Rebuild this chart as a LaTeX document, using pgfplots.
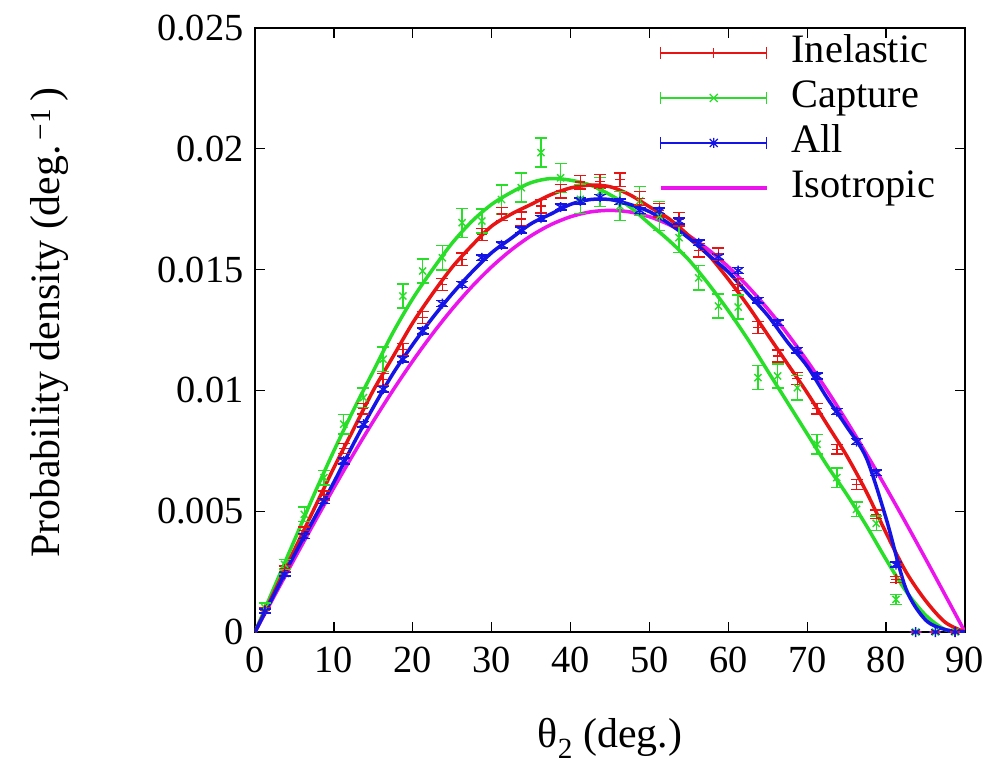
\documentclass[border=0pt]{standalone}
\usepackage{fontspec}
\setmainfont{Liberation Serif}
\usepackage{pgfplots}
\pgfplotsset{compat=1.18}
\usepackage{pgfplotstable}

\definecolor{cred}{RGB}{232,20,20}
\definecolor{cgreen}{RGB}{40,222,40}
\definecolor{cblue}{RGB}{20,20,230}
\definecolor{cmag}{RGB}{236,20,236}

\pgfplotstableread{
x y ey
1.25 0.00090 0.00010
3.75 0.00262 0.00012
6.25 0.00420 0.00015
8.75 0.00565 0.00018
11.25 0.00760 0.00020
13.75 0.00925 0.00022
16.25 0.01046 0.00025
18.75 0.01170 0.00025
21.25 0.01301 0.00025
23.75 0.01439 0.00025
26.25 0.01543 0.00025
28.75 0.01646 0.00025
31.25 0.01730 0.00028
33.75 0.01710 0.00028
36.25 0.01763 0.00028
38.75 0.01825 0.00028
41.25 0.01862 0.00028
43.75 0.01865 0.00028
46.25 0.01872 0.00028
48.75 0.01795 0.00028
51.25 0.01745 0.00028
53.75 0.01708 0.00028
56.25 0.01580 0.00028
58.75 0.01565 0.00025
61.25 0.01439 0.00025
63.75 0.01260 0.00025
66.25 0.01142 0.00025
68.75 0.01050 0.00025
71.25 0.00925 0.00022
73.75 0.00756 0.00020
76.25 0.00611 0.00020
78.75 0.00487 0.00018
81.25 0.00218 0.00012
83.75 0.0 0.0
86.25 0.0 0.0
88.75 0.0 0.0
}\inel

\pgfplotstableread{
x y ey
1.25 0.00100 0.00020
3.75 0.00280 0.00020
6.25 0.00487 0.00030
8.75 0.00639 0.00030
11.25 0.00860 0.00040
13.75 0.00970 0.00040
16.25 0.01129 0.00050
18.75 0.01391 0.00050
21.25 0.01494 0.00050
23.75 0.01549 0.00050
26.25 0.01694 0.00060
28.75 0.01701 0.00050
31.25 0.01790 0.00060
33.75 0.01839 0.00060
36.25 0.01984 0.00060
38.75 0.01880 0.00060
41.25 0.01791 0.00060
43.75 0.01822 0.00060
46.25 0.01763 0.00060
48.75 0.01784 0.00060
51.25 0.01722 0.00060
53.75 0.01632 0.00060
56.25 0.01466 0.00050
58.75 0.01349 0.00050
61.25 0.01345 0.00050
63.75 0.01053 0.00050
66.25 0.01060 0.00050
68.75 0.01011 0.00050
71.25 0.00777 0.00040
73.75 0.00639 0.00040
76.25 0.00508 0.00030
78.75 0.00450 0.00030
81.25 0.00135 0.00020
83.75 0.0 0.0
86.25 0.0 0.0
88.75 0.0 0.0
}\capt

\pgfplotstableread{
x y ey
1.25 0.00087 0.00008
3.75 0.00239 0.00008
6.25 0.00397 0.00010
8.75 0.00542 0.00010
11.25 0.00708 0.00012
13.75 0.00860 0.00012
16.25 0.01005 0.00012
18.75 0.01129 0.00012
21.25 0.01246 0.00012
23.75 0.01359 0.00012
26.25 0.01439 0.00012
28.75 0.01549 0.00012
31.25 0.01602 0.00012
33.75 0.01664 0.00012
36.25 0.01713 0.00012
38.75 0.01759 0.00012
41.25 0.01784 0.00012
43.75 0.01800 0.00012
46.25 0.01781 0.00012
48.75 0.01745 0.00012
51.25 0.01743 0.00012
53.75 0.01701 0.00012
56.25 0.01611 0.00012
58.75 0.01553 0.00012
61.25 0.01496 0.00012
63.75 0.01373 0.00012
66.25 0.01280 0.00012
68.75 0.01166 0.00012
71.25 0.01060 0.00012
73.75 0.00912 0.00012
76.25 0.00788 0.00012
78.75 0.00659 0.00012
81.25 0.00279 0.00010
83.75 0.0 0.0
86.25 0.0 0.0
88.75 0.0 0.0
}\allp

\pgfplotstableread{
x y
0 0
2.5 0.001521
5 0.003031
7.5 0.004517
10 0.005969
12.5 0.007376
15 0.008727
17.5 0.010011
20 0.011219
22.5 0.012341
25 0.013370
27.5 0.014297
30 0.015115
32.5 0.015818
35 0.016401
37.5 0.016859
40 0.017188
42.5 0.017387
45 0.017453
47.5 0.017387
50 0.017188
52.5 0.016859
55 0.016401
57.5 0.015818
60 0.015115
62.5 0.014297
65 0.013370
67.5 0.012341
70 0.011219
72.5 0.010011
75 0.008727
77.5 0.007376
80 0.005969
82.5 0.004517
85 0.003031
87.5 0.001521
90 0
}\iso

\pgfplotstableread{
x y
0 0
2.5 0.0017
5 0.0034
7.5 0.0051
10 0.0068
12.5 0.0084
15 0.0100
17.5 0.0114
20 0.0128
22.5 0.0140
25 0.0151
27.5 0.0160
30 0.0168
32.5 0.0173
35 0.0177
37.5 0.0181
40 0.01838
42.5 0.0185
45 0.01843
47.5 0.0181
50 0.0176
52.5 0.0171
55 0.0164
57.5 0.0156
60 0.0146
62.5 0.0135
65 0.0123
67.5 0.0111
70 0.0099
72.5 0.0086
75 0.0073
77.5 0.0058
80 0.0041
82.5 0.0025
85 0.0013
87.5 0.0004
90 0
}\inelfit

\pgfplotstableread{
x y
0 0
2.5 0.0019
5 0.0038
7.5 0.0057
10 0.0075
12.5 0.0092
15 0.0108
17.5 0.0124
20 0.0138
22.5 0.0150
25 0.0161
27.5 0.0170
30 0.0177
32.5 0.0182
35 0.0186
37.5 0.01877
40 0.0187
42.5 0.0185
45 0.0181
47.5 0.0176
50 0.0169
52.5 0.0162
55 0.0154
57.5 0.0144
60 0.0133
62.5 0.0121
65 0.0108
67.5 0.0095
70 0.0082
72.5 0.0069
75 0.0057
77.5 0.0044
80 0.0030
82.5 0.0017
85 0.0007
87.5 0.0001
90 0
}\captfit

\pgfplotstableread{
x y
0 0
2.5 0.0016
5 0.0032
7.5 0.0047
10 0.0062
12.5 0.0078
15 0.0093
17.5 0.0107
20 0.0119
22.5 0.0130
25 0.0140
27.5 0.0149
30 0.0157
32.5 0.0163
35 0.0169
37.5 0.0173
40 0.0177
42.5 0.0179
45 0.0179
47.5 0.0177
50 0.0174
52.5 0.0169
55 0.0163
57.5 0.0156
60 0.0149
62.5 0.0140
65 0.0131
67.5 0.0120
70 0.0110
72.5 0.0097
75 0.0085
77.5 0.0072
80 0.0047
82.5 0.0018
85 0.0005
87.5 0.0001
90 0
}\allfit

\newcommand{\bigf}{\fontsize{38.5}{44}\selectfont}
\newcommand{\labf}{\fontsize{42}{48}\selectfont}
\newcommand{\legf}{\fontsize{40.5}{46}\selectfont}

\begin{document}
\begin{tikzpicture}
\useasboundingbox (-255bp,-133bp) rectangle (738bp,632bp);
\begin{axis}[
  at={(0,0)}, anchor=south west,
  scale only axis, width=710bp, height=604bp,
  xmin=0, xmax=90, ymin=0, ymax=0.025,
  scaled y ticks=false, scaled x ticks=false,
  xtick={0,10,...,90},
  xticklabels={0,10,20,30,40,50,60,70,80,90},
  ytick={0,0.005,0.01,0.015,0.02,0.025},
  yticklabels={0,0.005,0.01,0.015,0.02,0.025},
  tick label style={font=\bigf},
  xticklabel style={yshift=-11bp},
  yticklabel style={xshift=-8bp},
  label style={font=\labf},
  xlabel={θ\textsubscript{2} (deg.)},
  ylabel={Probability density (deg.\textsuperscript{\,−1}\,)},
  xlabel style={at={(axis description cs:0.5,-0.191)}, anchor=base},
  ylabel style={at={(axis description cs:-0.289,0.512)}, anchor=center},
  major tick length=10bp,
  axis line style={line width=1.6bp},
  every tick/.style={black, line width=1.4bp},
  legend style={draw=none, fill=none, font=\legf,
    at={(axis description cs:0.5645,0.993)}, anchor=north west,
    nodes={inner sep=1bp, text height=27bp, text depth=8bp},
    row sep=8bp,
    /tikz/every odd column/.append style={column sep=22bp}},
  legend cell align=left,
  error bars/error bar style={line width=1.4bp},
  error bars/error mark options={rotate=90, mark size=6bp, line width=1.4bp},
]
% fits
\addplot[forget plot, cmag, line width=3.5bp, smooth] table {\iso};
\addplot[forget plot, cgreen, line width=3.5bp, smooth] table {\captfit};
\addplot[forget plot, cred, line width=3.5bp, smooth] table {\inelfit};
\addplot[forget plot, cblue, line width=3.5bp, smooth] table {\allfit};
% data
\addplot[forget plot, cgreen, only marks, mark=x, mark size=5bp, line width=1.4bp,
  error bars/.cd, y dir=both, y explicit]
  table[x=x, y=y, y error=ey] {\capt};
\addplot[forget plot, cred, only marks, mark=+, mark size=5bp, line width=1.4bp,
  error bars/.cd, y dir=both, y explicit]
  table[x=x, y=y, y error=ey] {\inel};
\addplot[forget plot, cblue, only marks, mark=asterisk, mark size=5bp, line width=1.4bp,
  error bars/.cd, y dir=both, y explicit]
  table[x=x, y=y, y error=ey] {\allp};
% legend
\addlegendimage{legend image code/.code={
  \draw[cred, line width=1.4bp] (0bp,0bp) -- (106bp,0bp);
  \draw[cred, line width=1.4bp] (0bp,-6bp) -- (0bp,6bp);
  \draw[cred, line width=1.4bp] (106bp,-6bp) -- (106bp,6bp);
  \draw[cred, line width=1.4bp] (53bp,-5bp) -- (53bp,5bp);
}}
\addlegendentry{Inelastic}
\addlegendimage{legend image code/.code={
  \draw[cgreen, line width=1.4bp] (0bp,0bp) -- (106bp,0bp);
  \draw[cgreen, line width=1.4bp] (0bp,-6bp) -- (0bp,6bp);
  \draw[cgreen, line width=1.4bp] (106bp,-6bp) -- (106bp,6bp);
  \draw[cgreen, line width=1.2bp] (49bp,-4bp) -- (57bp,4bp) (49bp,4bp) -- (57bp,-4bp);
}}
\addlegendentry{Capture}
\addlegendimage{legend image code/.code={
  \draw[cblue, line width=1.4bp] (0bp,0bp) -- (106bp,0bp);
  \draw[cblue, line width=1.4bp] (0bp,-6bp) -- (0bp,6bp);
  \draw[cblue, line width=1.4bp] (106bp,-6bp) -- (106bp,6bp);
  \draw[cblue, line width=1.2bp] (53bp,-5bp) -- (53bp,5bp) (49bp,-4bp) -- (57bp,4bp) (49bp,4bp) -- (57bp,-4bp);
}}
\addlegendentry{All}
\addlegendimage{legend image code/.code={
  \draw[cmag, line width=3.5bp] (0bp,0bp) -- (106bp,0bp);
}}
\addlegendentry{Isotropic}
\end{axis}
\end{tikzpicture}
\end{document}
